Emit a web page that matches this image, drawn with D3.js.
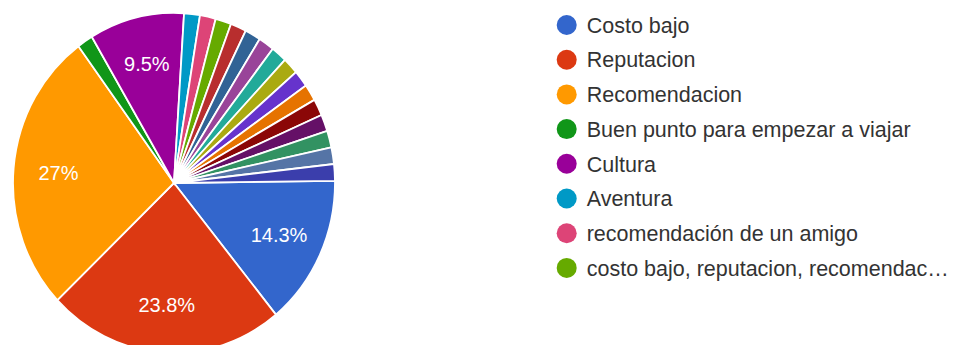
<!DOCTYPE html>
<html>
<head>
<meta charset="utf-8">
<script src="https://cdn.jsdelivr.net/npm/d3@7"></script>
<style>
  html, body { margin: 0; padding: 0; background: #ffffff; }
  svg { display: block; }
</style>
</head>
<body>
<svg id="chart" width="955" height="345"></svg>
<script>
// Survey answers: why the destination was chosen (63 responses)
const categories = [
  "Costo bajo",
  "Reputacion",
  "Recomendacion",
  "Buen punto para empezar a viajar",
  "Cultura",
  "Aventura",
  "recomendación de un amigo",
  "costo bajo, reputacion, recomendac…",
  "Respuesta 9", "Respuesta 10", "Respuesta 11", "Respuesta 12",
  "Respuesta 13", "Respuesta 14", "Respuesta 15", "Respuesta 16",
  "Respuesta 17", "Respuesta 18", "Respuesta 19", "Respuesta 20"
];
const counts = [9, 15, 17, 1, 6, 1, 1, 1, 1, 1, 1, 1, 1, 1, 1, 1, 1, 1, 1, 1];
const palette = [
  "#3366cc", "#dc3912", "#ff9900", "#109618", "#990099",
  "#0099c6", "#dd4477", "#66aa00", "#b82e2e", "#316395",
  "#994499", "#22aa99", "#aaaa11", "#6633cc", "#e67300",
  "#8b0707", "#651067", "#329262", "#5574a6", "#3b3eac"
];
const legendVisible = 8;   // first page of the legend

const data = categories.map((c, i) => ({ name: c, value: counts[i], color: palette[i] }));
const total = d3.sum(counts);

const svg = d3.select("#chart");

// Pie geometry
const cx = 174, cy = 183, r = 161, yStretch = 1.056;
const startDeg = 89.3;   // angle (clockwise from 12 o'clock) where the first slice begins
const start = startDeg * Math.PI / 180;

const pie = d3.pie().value(d => d.value).sort(null)
  .startAngle(start).endAngle(start + 2 * Math.PI);
const arcs = pie(data);
const arc = d3.arc().innerRadius(0).outerRadius(r);
const labelArc = d3.arc().innerRadius(r * 0.72).outerRadius(r * 0.72);

const g = svg.append("g")
  .attr("transform", `translate(${cx},${cy}) scale(1,${yStretch})`);

g.selectAll("path.slice")
  .data(arcs)
  .enter().append("path")
  .attr("class", "slice")
  .attr("d", arc)
  .attr("fill", d => d.data.color)
  .attr("stroke", "#ffffff")
  .attr("stroke-width", 1.8)
  .attr("vector-effect", "non-scaling-stroke");

// Percentage labels on the larger slices
const fmtPct = v => {
  const p = v / total * 100;
  return (Math.round(p * 10) / 10).toString().replace(/\.0$/, "") + "%";
};

svg.append("g")
  .selectAll("text")
  .data(arcs.filter(d => d.data.value / total > 0.05))
  .enter().append("text")
  .attr("x", d => cx + labelArc.centroid(d)[0])
  .attr("y", d => cy + labelArc.centroid(d)[1] * yStretch)
  .attr("dy", "0.36em")
  .attr("text-anchor", "middle")
  .attr("fill", "#ffffff")
  .style("font-family", "Arial, 'Liberation Sans', sans-serif")
  .style("font-size", "20px")
  .text(d => fmtPct(d.data.value));

// Legend
const legend = svg.append("g").attr("transform", "translate(566.7,25)");
const rows = legend.selectAll("g.row")
  .data(data.slice(0, legendVisible))
  .enter().append("g")
  .attr("class", "row")
  .attr("transform", (d, i) => `translate(0,${i * 34.7})`);

rows.append("circle")
  .attr("r", 10)
  .attr("fill", d => d.color);

rows.append("text")
  .attr("x", 20)
  .attr("dy", "0.36em")
  .attr("fill", "#333333")
  .style("font-family", "Arial, 'Liberation Sans', sans-serif")
  .style("font-size", "21.5px")
  .text(d => d.name);
</script>
</body>
</html>
